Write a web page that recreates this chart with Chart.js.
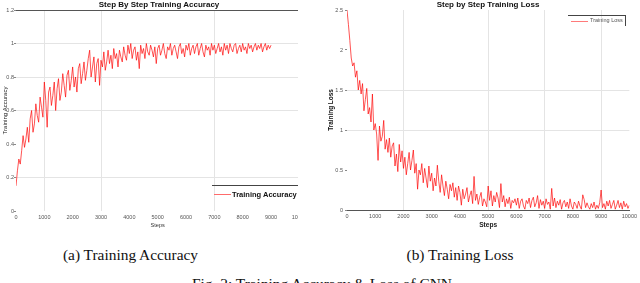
<!DOCTYPE html>
<html>
<head>
<meta charset="utf-8">
<script src="https://cdn.jsdelivr.net/npm/chart.js@4.4.1/dist/chart.umd.min.js"></script>
<style>
  html, body { margin:0; padding:0; background:#fff; }
  body { width:640px; height:283px; position:relative; overflow:hidden; font-family:'Liberation Sans', Arial, sans-serif; }
  .abs { position:absolute; white-space:nowrap; }
  .title { font-weight:bold; font-size:8px; line-height:10px; color:#111; transform:translateX(-50%); }
  .cap { font-family:'Liberation Serif','Times New Roman',serif; font-size:15.4px; line-height:15.4px; color:#111; transform:translateX(-50%); }
</style>
</head>
<body>
<div class="abs" style="left:0;top:0;width:298px;height:232px;overflow:hidden;">
  <canvas id="acc" width="310" height="230"></canvas>
</div>
<div class="abs" style="left:320px;top:0;width:320px;height:232px;overflow:hidden;">
  <canvas id="loss" width="320" height="231"></canvas>
</div>

<div class="abs title" style="left:159px;top:0px;">Step By Step Training Accuracy</div>
<div class="abs title" style="left:488px;top:-0.5px;">Step by Step Training Loss</div>

<!-- legend (a) -->
<div class="abs" style="left:212px;top:185px;width:86px;height:16px;border-top:1px solid #444;"></div>
<div class="abs" style="left:214px;top:194px;width:17px;height:0;border-top:1.2px solid #ff6b6b;"></div>
<div class="abs" style="left:232px;top:190px;font-size:7.5px;line-height:9px;font-weight:bold;color:#111;">Training Accuracy</div>

<!-- legend (b) -->
<div class="abs" style="left:568px;top:15px;width:57px;height:10px;border-top:1px solid #444;border-right:1px solid #444;"></div>
<div class="abs" style="left:571px;top:20.5px;width:17px;height:0;border-top:1.2px solid #ff7a7a;"></div>
<div class="abs" style="left:590px;top:17px;font-size:5.5px;line-height:7px;color:#555;">Training Loss</div>

<div class="abs cap" style="left:130.5px;top:247px;">(a) Training Accuracy</div>
<div class="abs cap" style="left:460px;top:247px;">(b) Training Loss</div>
<div class="abs cap" style="left:322px;top:276px;">Fig. 2: Training Accuracy &amp; Loss of CNN</div>

<script>
// ---- data (one value every 50 steps) ----
const STEP_INTERVAL = 50;

const accuracy = [
0.15,0.24,0.31,0.28,0.36,0.45,0.38,0.43,0.50,0.41,
0.55,0.60,0.47,0.52,0.64,0.57,0.53,0.68,0.62,0.56,
0.77,0.66,0.50,0.71,0.74,0.63,0.69,0.77,0.60,0.73,
0.79,0.66,0.71,0.82,0.75,0.68,0.81,0.84,0.72,0.78,
0.86,0.74,0.80,0.71,0.85,0.88,0.76,0.82,0.89,0.78,
0.84,0.91,0.96,0.80,0.86,0.92,0.77,0.88,0.91,0.75,
0.90,0.86,0.95,0.84,0.89,0.96,0.88,0.93,0.85,0.97,
0.91,0.94,0.86,0.96,0.92,0.89,0.98,0.93,0.90,0.99,
0.94,1.00,0.91,0.96,0.98,0.90,0.95,0.85,0.99,0.94,
0.97,0.91,1.00,0.95,0.93,0.99,0.96,0.92,0.98,0.88,
0.97,0.99,0.93,0.96,1.00,0.94,0.91,0.98,0.96,1.00,
0.93,0.97,0.99,0.95,0.91,0.98,1.00,0.94,0.97,0.92,
0.99,0.96,1.00,0.93,0.97,0.99,0.94,0.98,1.00,0.93,
0.97,1.00,0.95,0.92,0.99,0.96,0.98,0.93,1.00,0.96,
0.99,0.94,0.97,1.00,0.95,0.98,0.93,1.00,0.96,0.99,
0.94,1.00,0.97,0.95,0.99,1.00,0.94,0.97,0.99,0.95,
1.00,0.96,0.98,0.94,1.00,0.97,0.99,0.95,0.98,1.00,
0.96,0.99,0.97,1.00,0.95,0.98,1.00,0.96,0.99,0.97,
0.99
];

const loss = [
2.50,2.32,2.12,1.90,1.80,1.84,1.66,1.74,1.50,1.62,
1.45,1.58,1.24,1.38,1.52,1.20,1.28,1.10,1.45,1.00,
1.08,0.95,0.62,1.05,0.86,0.92,1.12,0.76,0.88,0.72,
0.90,0.66,0.80,0.84,0.55,0.70,0.48,0.82,0.60,0.74,
0.52,0.66,0.44,0.58,0.72,0.50,0.62,0.75,0.46,0.58,
0.26,0.50,0.44,0.58,0.34,0.52,0.40,0.28,0.55,0.36,
0.46,0.24,0.40,0.30,0.56,0.36,0.22,0.44,0.30,0.18,
0.36,0.26,0.14,0.32,0.24,0.34,0.16,0.28,0.12,0.30,
0.22,0.06,0.26,0.14,0.20,0.28,0.10,0.18,0.24,0.08,
0.42,0.12,0.20,0.07,0.16,0.22,0.05,0.14,0.10,0.04,
0.30,0.12,0.24,0.05,0.18,0.10,0.22,0.15,0.03,0.33,
0.10,0.18,0.04,0.14,0.08,0.16,0.02,0.12,0.09,0.14,
0.06,0.15,0.02,0.11,0.14,0.05,0.01,0.12,0.08,0.15,
0.03,0.12,0.16,0.04,0.09,0.18,0.02,0.13,0.06,0.11,
0.02,0.14,0.07,0.10,0.01,0.27,0.05,0.15,0.03,0.11,
0.06,0.13,0.01,0.09,0.12,0.04,0.10,0.02,0.14,0.05,
0.01,0.10,0.07,0.02,0.11,0.05,0.01,0.19,0.13,0.03,
0.09,0.04,0.01,0.08,0.03,0.10,0.01,0.06,0.02,0.09,
0.25,0.03,0.08,0.01,0.11,0.05,0.12,0.02,0.07,0.12,
0.01,0.06,0.12,0.03,0.09,0.01,0.11,0.04,0.08,0.02,
0.06
];

const accGridX = [1000, 3000, 7000];
const accGridY = [0.2, 0.6, 0.8, 1.0];
const lossGridX = [2000, 5000, 7000, 9000];
const lossGridY = [1.0, 1.5];

// ---- helpers ----
const toXY = arr => arr.map((v, i) => ({ x: i * STEP_INTERVAL, y: v }));
const inList = (v, list) => list.some(g => Math.abs(g - v) < 1e-6);
const fmt = v => String(Number(Number(v).toFixed(1)));
const fmtInt = v => String(Math.round(v));
const tickFont = { family: "'Liberation Sans', Arial, sans-serif", size: 5.5 };
const GRID = '#e4e4e4';
const LINE = 'rgba(255,0,0,0.85)';

Chart.defaults.font.family = "'Liberation Sans', Arial, sans-serif";
Chart.defaults.animation = false;

new Chart(document.getElementById('acc'), {
  type: 'line',
  data: { datasets: [{
    label: 'Training Accuracy',
    data: toXY(accuracy),
    borderColor: LINE,
    borderWidth: 0.8,
    pointRadius: 0,
    tension: 0
  }]},
  options: {
    responsive: false,
    devicePixelRatio: 1,
    layout: { padding: { top: 10, right: 9, left: 0, bottom: 0 } },
    plugins: { legend: { display: false }, tooltip: { enabled: false } },
    scales: {
      x: {
        type: 'linear', min: 0, max: 10000,
        afterFit: s => { s.height = 19; },
        ticks: { stepSize: 1000, autoSkip: false, maxRotation: 0, padding: 3, color: '#555', font: tickFont, callback: v => fmtInt(v) },
        grid: { drawTicks: false, lineWidth: 1,
          color: c => (c.tick && inList(c.tick.value, accGridX)) ? GRID : 'rgba(0,0,0,0)' },
        border: { display: false },
        title: { display: true, text: 'Steps', color: '#333', font: { size: 5.6 }, padding: { top: 0, bottom: 1.6 } }
      },
      y: {
        type: 'linear', min: 0, max: 1.2,
        afterFit: s => { s.width = 16; },
        ticks: { stepSize: 0.2, padding: 0, color: '#555', font: tickFont, callback: v => fmt(v) },
        grid: { drawTicks: true, tickLength: 2, tickColor: '#888', lineWidth: 1,
          color: c => {
            if (!c.tick) return 'rgba(0,0,0,0)';
            if (Math.abs(c.tick.value - 1.2) < 1e-6) return '#555';
            return inList(c.tick.value, accGridY) ? GRID : 'rgba(0,0,0,0)';
          } },
        border: { display: false },
        title: { display: true, text: 'Training Accuracy', color: '#222', font: { size: 6 }, padding: { top: 1.4, bottom: 0 } }
      }
    }
  }
});

new Chart(document.getElementById('loss'), {
  type: 'line',
  data: { datasets: [{
    label: 'Training Loss',
    data: toXY(loss),
    borderColor: LINE,
    borderWidth: 0.8,
    pointRadius: 0,
    tension: 0
  }]},
  options: {
    responsive: false,
    devicePixelRatio: 1,
    layout: { padding: { top: 10, right: 9, left: 0, bottom: 0 } },
    plugins: { legend: { display: false }, tooltip: { enabled: false } },
    scales: {
      x: {
        type: 'linear', min: 0, max: 10000,
        afterFit: s => { s.height = 21; },
        ticks: { stepSize: 1000, autoSkip: false, maxRotation: 0, padding: 3, color: '#555', font: tickFont, callback: v => fmtInt(v) },
        grid: { drawTicks: false, lineWidth: 1,
          color: c => (c.tick && inList(c.tick.value, lossGridX)) ? GRID : 'rgba(0,0,0,0)' },
        border: { display: true, color: '#555', width: 1 },
        title: { display: true, text: 'Steps', color: '#222', font: { size: 6.6, weight: 'bold' }, padding: { top: 0, bottom: 1.5 } }
      },
      y: {
        type: 'linear', min: 0, max: 2.5,
        afterFit: s => { s.width = 27; },
        ticks: { stepSize: 0.5, padding: 2, color: '#555', font: tickFont, callback: v => fmt(v) },
        grid: { drawTicks: true, tickLength: 2, tickColor: '#888', lineWidth: 1,
          color: c => (c.tick && inList(c.tick.value, lossGridY)) ? GRID : 'rgba(0,0,0,0)' },
        border: { display: false },
        title: { display: true, text: 'Training Loss', color: '#111', font: { size: 6.4, weight: 'bold' }, padding: { top: 7.2, bottom: 0 } }
      }
    }
  }
});
</script>
</body>
</html>
